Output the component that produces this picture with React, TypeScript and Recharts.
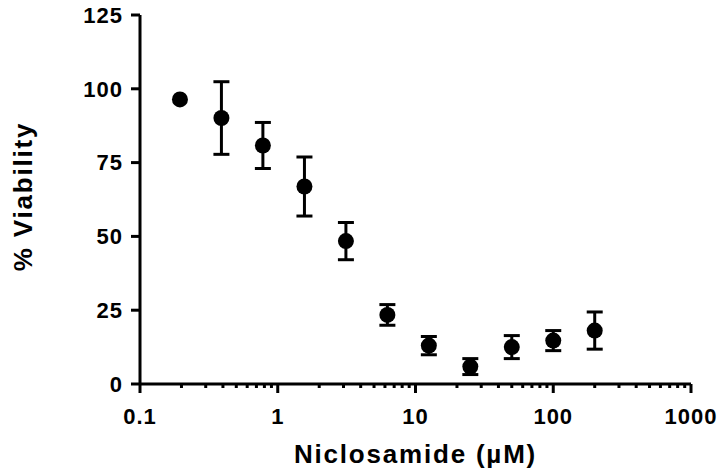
import React from 'react';
import { ScatterChart, Scatter, XAxis, YAxis, ErrorBar, Label } from 'recharts';

// dose (µM) vs mean viability (%) and SD
const doses = [0.195, 0.39, 0.78, 1.5625, 3.125, 6.25, 12.5, 25, 50, 100, 200];
const viability = [96.4, 90.1, 80.8, 66.9, 48.4, 23.4, 13.0, 5.9, 12.5, 14.7, 18.1];
const sd = [0, 12.3, 7.8, 10.0, 6.3, 3.5, 3.1, 2.7, 3.9, 3.4, 6.3];

const majorTicks = [0.1, 1, 10, 100, 1000];
const minorSteps = [2, 3, 4, 5, 6, 7, 8, 9];
const yTicks = [0, 25, 50, 75, 100, 125];

const xTicks = majorTicks.flatMap((m, i) =>
  i < majorTicks.length - 1 ? [m, ...minorSteps.map(s => m * s)] : [m]
);

const data = doses.map((d, i) => ({ dose: d, v: viability[i], err: sd[i] }));

const FONT = '"Liberation Sans", Arial, sans-serif';

const XTick = (props: any) => {
  const { x, y, payload } = props;
  const isMajor = majorTicks.includes(payload.value);
  return (
    <g>
      <line x1={x} x2={x} y1={y} y2={y + (isMajor ? 9 : 4)} stroke="#000" strokeWidth={3} />
      {isMajor && (
        <text
          x={x}
          y={y + 40}
          textAnchor="middle"
          fill="#000"
          fontSize={22}
          fontWeight={700}
          fontFamily={FONT}
          letterSpacing={1}
        >
          {payload.value}
        </text>
      )}
    </g>
  );
};

const Dot = (props: any) => <circle cx={props.cx} cy={props.cy} r={8} fill="#000" />;

export default function App() {
  return (
    <div style={{ position: 'absolute', left: 0, top: 0, background: '#fff' }}>
      <ScatterChart width={722} height={476} margin={{ top: 15, right: 31, left: 0, bottom: 0 }}>
        <XAxis
          type="number"
          dataKey="dose"
          scale="log"
          domain={[0.1, 1000]}
          ticks={xTicks}
          interval={0}
          height={92}
          tickSize={0}
          tickMargin={0}
          tickLine={false}
          axisLine={{ stroke: '#000', strokeWidth: 3 }}
          tick={<XTick />}
          allowDataOverflow
        >
          <Label
            content={({ viewBox }: any) => (
              <text
                x={viewBox.x + viewBox.width / 2}
                y={viewBox.y + 79}
                textAnchor="middle"
                fill="#000"
                fontSize={26}
                fontWeight={700}
                fontFamily={FONT}
                letterSpacing={1.8}
              >
                Niclosamide (µM)
              </text>
            )}
          />
        </XAxis>
        <YAxis
          type="number"
          dataKey="v"
          domain={[0, 125]}
          ticks={yTicks}
          interval={0}
          width={140}
          tickSize={9}
          tickMargin={8}
          tickLine={{ stroke: '#000', strokeWidth: 3 }}
          axisLine={{ stroke: '#000', strokeWidth: 3 }}
          tick={{ fill: '#000', fontSize: 22, fontWeight: 700, fontFamily: FONT, letterSpacing: 1 }}
        >
          <Label
            content={({ viewBox }: any) => {
              const cx = 32;
              const cy = viewBox.y + viewBox.height / 2 - 3;
              return (
                <text
                  x={cx}
                  y={cy}
                  transform={`rotate(-90, ${cx}, ${cy})`}
                  textAnchor="middle"
                  fill="#000"
                  fontSize={26}
                  fontWeight={700}
                  fontFamily={FONT}
                  letterSpacing={1.8}
                >
                  % Viability
                </text>
              );
            }}
          />
        </YAxis>
        <Scatter data={data} fill="#000" shape={<Dot />} isAnimationActive={false}>
          <ErrorBar dataKey="err" direction="y" width={8} stroke="#000" strokeWidth={3} />
        </Scatter>
      </ScatterChart>
    </div>
  );
}
